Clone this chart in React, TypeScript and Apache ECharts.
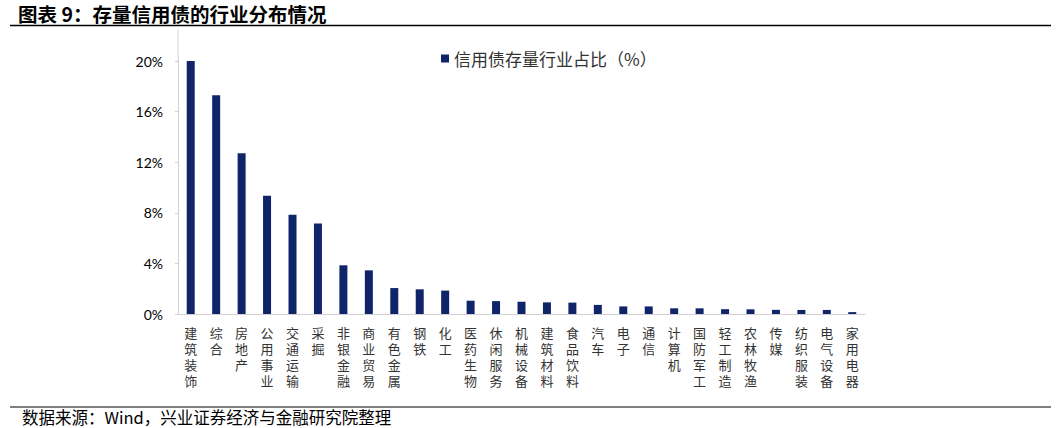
import React, { useEffect, useRef } from "react";
import * as echarts from "echarts";

const categories = [
  "建筑装饰", "综合", "房地产", "公用事业", "交通运输", "采掘", "非银金融", "商业贸易", "有色金属",
  "钢铁", "化工", "医药生物", "休闲服务", "机械设备", "建筑材料", "食品饮料", "汽车", "电子", "通信",
  "计算机", "国防军工", "轻工制造", "农林牧渔", "传媒", "纺织服装", "电气设备", "家用电器",
];
const shareValues = [
  20.1, 17.3, 12.7, 9.35, 7.85, 7.15, 3.85, 3.45, 2.05, 1.95, 1.85, 1.05, 1.02, 0.97, 0.92, 0.9,
  0.72, 0.6, 0.6, 0.45, 0.45, 0.38, 0.37, 0.33, 0.32, 0.32, 0.15,
];
const yTicks = [0, 4, 8, 12, 16, 20];
const seriesName = "信用债存量行业占比（%）";
const titleText = "图表 9：存量信用债的行业分布情况";
const sourceText = "数据来源：Wind，兴业证券经济与金融研究院整理";

export default function App() {
  const ref = useRef<HTMLDivElement>(null);
  useEffect(() => {
    document.body.style.margin = "0";
    const chart = echarts.init(ref.current!, undefined, { renderer: "svg" });
    chart.setOption({
      animation: false,
      backgroundColor: "#ffffff",
      grid: { left: 178, right: 191, top: 61, bottom: 114, containLabel: false },
      legend: {
        data: [seriesName],
        left: 436,
        top: 45,
        itemWidth: 8,
        itemHeight: 8,
        icon: "rect",
        textStyle: { fontSize: 17, color: "#333", fontFamily: "Noto Sans CJK SC" },
      },
      xAxis: {
        type: "category",
        data: categories,
        axisLine: { show: true, lineStyle: { color: "#d0d0d0" } },
        axisTick: { show: false },
        axisLabel: {
          interval: 0,
          margin: 10,
          fontSize: 13,
          lineHeight: 16,
          color: "#333",
          fontFamily: "Noto Sans CJK SC",
          formatter: (v: string) => v.split("").join("\n"),
        },
      },
      yAxis: {
        type: "value",
        min: yTicks[0],
        max: yTicks[yTicks.length - 1],
        interval: 4,
        splitLine: { show: false },
        axisLine: { show: true, lineStyle: { color: "#d0d0d0" } },
        axisTick: { show: true, length: 3, lineStyle: { color: "#d0d0d0" } },
        axisLabel: {
          margin: 15,
          fontSize: 14,
          color: "#000",
          fontFamily: "Lato",
          formatter: (v: number) => `${v}%`,
        },
      },
      series: [
        {
          name: seriesName,
          type: "bar",
          data: shareValues,
          barWidth: 8,
          itemStyle: { color: "#10246a" },
        },
      ],
      graphic: [
        {
          type: "text",
          left: 18,
          top: 4,
          style: {
            text: titleText,
            fontSize: 19.5,
            fontWeight: "bold",
            fontFamily: "Noto Sans CJK SC",
            fill: "#000",
          },
        },
        {
          type: "line",
          shape: { x1: 10, y1: 25.5, x2: 1051, y2: 25.5 },
          style: { stroke: "#000", lineWidth: 1.5 },
        },
        {
          type: "line",
          shape: { x1: 178, y1: 30, x2: 178, y2: 61 },
          style: { stroke: "#d0d0d0", lineWidth: 1 },
        },
        {
          type: "line",
          shape: { x1: 10, y1: 407, x2: 1051, y2: 407 },
          style: { stroke: "#000", lineWidth: 1 },
        },
        {
          type: "text",
          left: 22,
          top: 409,
          style: {
            text: sourceText,
            fontSize: 16.5,
            fontFamily: "Noto Sans CJK SC",
            fill: "#000",
          },
        },
      ],
    });
    return () => chart.dispose();
  }, []);
  return <div ref={ref} style={{ width: 1056, height: 428 }} />;
}
